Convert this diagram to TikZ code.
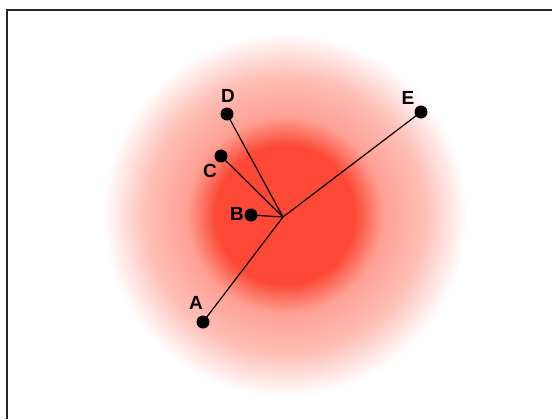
\documentclass[tikz,border=0pt]{standalone}
\usepackage{fontspec}
\setsansfont{Liberation Sans}

\definecolor{glowcore}{RGB}{252,72,52}
\definecolor{glowmid}{RGB}{254,160,148}
\definecolor{glowhalo}{RGB}{254,190,182}
\pgfdeclareradialshading{glow}{\pgfpoint{0bp}{0bp}}{%
  color(0bp)=(glowcore); color(9.5bp)=(glowcore); color(13.5bp)=(glowmid);
  color(19bp)=(glowhalo); color(25bp)=(white); color(50bp)=(white)}

\tikzset{
  dot/.style={circle, fill=black, inner sep=0pt, minimum size=6.5pt},
  letter/.style={font=\sffamily\bfseries\fontsize{9.5}{10}\selectfont, inner sep=0pt},
  spoke/.style={line width=0.6pt}
}

\begin{document}
\begin{tikzpicture}[x=0.5pt, y=-0.5pt]
    \useasboundingbox (0,0) rectangle (552,419);

    % 绘制边框
    \draw[line width=1pt, black!85] (7,419) -- (7,10) -- (552,10);

    % 绘制光晕
    \shade[shading=glow] (285,215) circle (91pt);

    % 中心点
    \coordinate (hub) at (283,217);

    % 绘制各点及其标签
    \foreach \p/\x/\y/\lx/\ly in {
        A/203/322/196/303,
        B/251/215/237/214,
        C/221/156/210/171,
        D/227/114/228/96,
        E/421/112/408/98%
    } {
        \node[dot] (\p) at (\x,\y) {};
        \node[letter] (lbl\p) at (\lx,\ly) {\p};
        \draw[spoke] (hub) -- (\p.center);
    }

\end{tikzpicture}
\end{document}
